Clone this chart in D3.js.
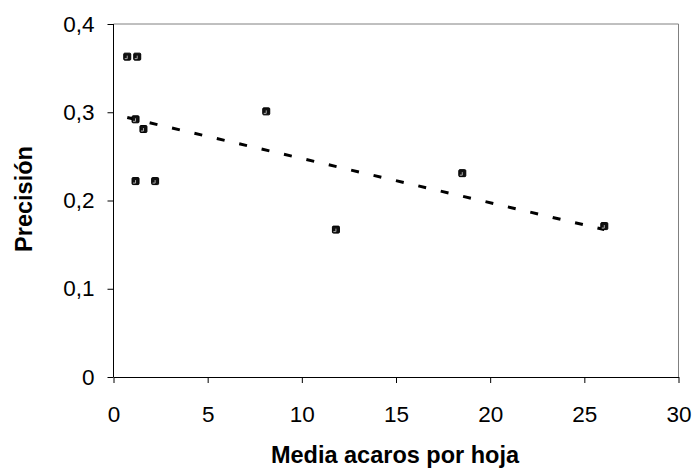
<!DOCTYPE html>
<html>
<head>
<meta charset="utf-8">
<script src="https://cdn.jsdelivr.net/npm/d3@7"></script>
<style>
  body { margin: 0; background: #fff; }
  text { font-family: "Liberation Sans", Arial, sans-serif; fill: #000; }
</style>
</head>
<body>
<div id="chart"></div>
<script>
// data
var mediaAcaros = [0.73, 1.26, 1.17, 1.59, 1.17, 2.21, 8.11, 11.81, 18.52, 26.06];
var precision  = [0.363, 0.363, 0.292, 0.281, 0.222, 0.222, 0.301, 0.167, 0.231, 0.171];
var xTicks = [0, 5, 10, 15, 20, 25, 30];
var yTicks = [0, 0.1, 0.2, 0.3, 0.4];

var width = 694, height = 472;
var pLeft = 113.5, pRight = 678.5, pTop = 24, pBottom = 377;

var svg = d3.select('#chart').append('svg').attr('width', width).attr('height', height);

var x = d3.scaleLinear().domain([0, 30]).range([pLeft, pRight]);
var y = d3.scaleLinear().domain([0, 0.4]).range([pBottom, pTop]);

// plot area border (grey) on top and right
svg.append('path')
  .attr('d', `M${pLeft},${pTop}H${pRight}V${pBottom}`)
  .attr('fill', 'none').attr('stroke', '#808080').attr('stroke-width', 1);

var fmt = function(d){ return d === 0 ? '0' : d3.format('.1f')(d).replace('.', ','); };

var xAxis = svg.append('g').attr('transform', `translate(0,${pBottom})`)
  .call(d3.axisBottom(x).tickValues(xTicks).tickSize(6).tickPadding(23).tickSizeOuter(0));
var yAxis = svg.append('g').attr('transform', `translate(${pLeft},0)`)
  .call(d3.axisLeft(y).tickValues(yTicks).tickFormat(fmt).tickSize(6).tickPadding(13).tickSizeOuter(0));

[xAxis, yAxis].forEach(function(g){
  g.attr('font-size', 22.5).attr('font-family', '"Liberation Sans", Arial, sans-serif');
  g.select('.domain').attr('stroke', '#000');
  g.selectAll('.tick line').attr('stroke', '#000');
  g.selectAll('.tick text').attr('fill', '#000');
});
yAxis.select('.domain').attr('d', `M0,${pTop}V${pBottom}`);

// linear trend line (least squares)
var n = mediaAcaros.length;
var mx = d3.mean(mediaAcaros), my = d3.mean(precision);
var sxy = 0, sxx = 0;
for (var i = 0; i < n; i++) {
  sxy += (mediaAcaros[i] - mx) * (precision[i] - my);
  sxx += (mediaAcaros[i] - mx) * (mediaAcaros[i] - mx);
}
var slope = sxy / sxx, icpt = my - slope * mx;
var x0 = d3.min(mediaAcaros), x1 = d3.max(mediaAcaros);

svg.append('line')
  .attr('x1', x(x0)).attr('y1', y(icpt + slope * x0))
  .attr('x2', x(x1)).attr('y2', y(icpt + slope * x1))
  .attr('stroke', '#000').attr('stroke-width', 3)
  .attr('stroke-dasharray', '8,15');

// markers
var pts = mediaAcaros.map(function(d, i){ return {x: d, y: precision[i]}; });
var m = svg.append('g').selectAll('g').data(pts).enter().append('g')
  .attr('transform', function(d){ return `translate(${x(d.x)},${y(d.y)})`; });
m.append('rect').attr('x', -3.5).attr('y', -3.5).attr('width', 7).attr('height', 7).attr('rx', 1)
  .attr('fill', '#111').attr('stroke', '#000').attr('stroke-width', 1);
m.append('path').attr('d', 'M0,-1V2M0,2H-2.5').attr('stroke', '#aaa').attr('stroke-width', 1).attr('fill', 'none');

// axis titles
svg.append('text').attr('x', 395).attr('y', 463).attr('text-anchor', 'middle')
  .attr('font-size', 23.5).attr('font-weight', 'bold').text('Media acaros por hoja');
svg.append('text').attr('transform', 'translate(32,199) rotate(-90)').attr('text-anchor', 'middle')
  .attr('font-size', 23.5).attr('font-weight', 'bold').text('Precisión');
</script>
</body>
</html>
